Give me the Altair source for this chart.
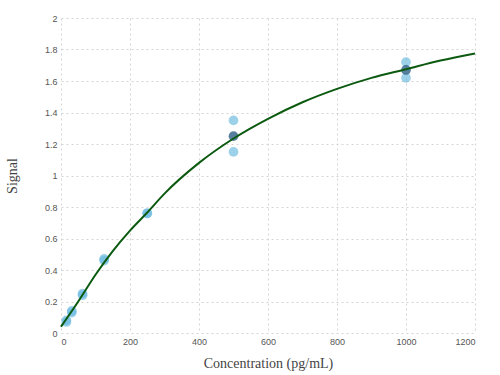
import altair as alt
import pandas as pd

# Replicate measurements
rep_conc = [15.6, 15.6, 31.25, 31.25, 62.5, 62.5, 125, 125, 250, 250, 500, 500, 1000, 1000]
rep_signal = [0.07, 0.08, 0.13, 0.14, 0.24, 0.25, 0.46, 0.47, 0.76, 0.76, 1.35, 1.15, 1.72, 1.62]
# Mean points (darker)
mean_conc = [500, 1000]
mean_signal = [1.25, 1.67]

# Fitted curve
curve_conc = [0, 50, 100, 150, 200, 250, 300, 400, 500, 600, 700, 800, 900, 1000, 1100, 1200]
curve_signal = [0.04, 0.20, 0.37, 0.52, 0.65, 0.765, 0.885, 1.08, 1.235, 1.36, 1.465, 1.55,
                1.62, 1.675, 1.73, 1.775]

y_ticks = [0, 0.2, 0.4, 0.6, 0.8, 1, 1.2, 1.4, 1.6, 1.8, 2]
x_ticks = [0, 200, 400, 600, 800, 1000, 1200]

df = pd.concat([
    pd.DataFrame({"conc": rep_conc, "signal": rep_signal, "kind": "rep"}),
    pd.DataFrame({"conc": mean_conc, "signal": mean_signal, "kind": "mean"}),
    pd.DataFrame({"conc": curve_conc, "signal": curve_signal, "kind": "curve"}),
], ignore_index=True)

common = dict(
    grid=True, gridColor="#d4d4d4", gridDash=[2, 3], gridWidth=1,
    domain=False, ticks=False, labelOverlap=False,
    labelFont="Liberation Sans", labelFontSize=9, labelColor="#555555", labelPadding=4,
    titleFont="Liberation Serif", titleFontSize=14, titleFontWeight="normal", titleColor="#444444",
)

base = alt.Chart(df).encode(
    x=alt.X("conc:Q", scale=alt.Scale(domain=[0, 1200], nice=False),
            axis=alt.Axis(title="Concentration (pg/mL)", values=x_ticks, format="d",
                          titleBaseline="alphabetic", titleY=34, **common)),
    y=alt.Y("signal:Q", scale=alt.Scale(domain=[0, 2], nice=False),
            axis=alt.Axis(title="Signal", values=y_ticks, format="~g", titleX=-42, **common)),
)

rep_layer = base.transform_filter(alt.datum.kind == "rep").mark_circle(
    size=95, color="#68b9df", opacity=0.65)
mean_layer = base.transform_filter(alt.datum.kind == "mean").mark_circle(
    size=95, color="#2f5f86", opacity=0.8)
curve_layer = base.transform_filter(alt.datum.kind == "curve").mark_line(
    color="#0b5a10", strokeWidth=2, interpolate="monotone")

chart = alt.layer(rep_layer, mean_layer, curve_layer).properties(
    width=414, height=315,
    autosize=alt.AutoSizeParams(type="none"),
    padding={"left": 61, "top": 18, "right": 25, "bottom": 42},
    background="white",
).configure_view(stroke=None)

chart.save("out.html", embed_options={"renderer": "svg", "actions": False})
